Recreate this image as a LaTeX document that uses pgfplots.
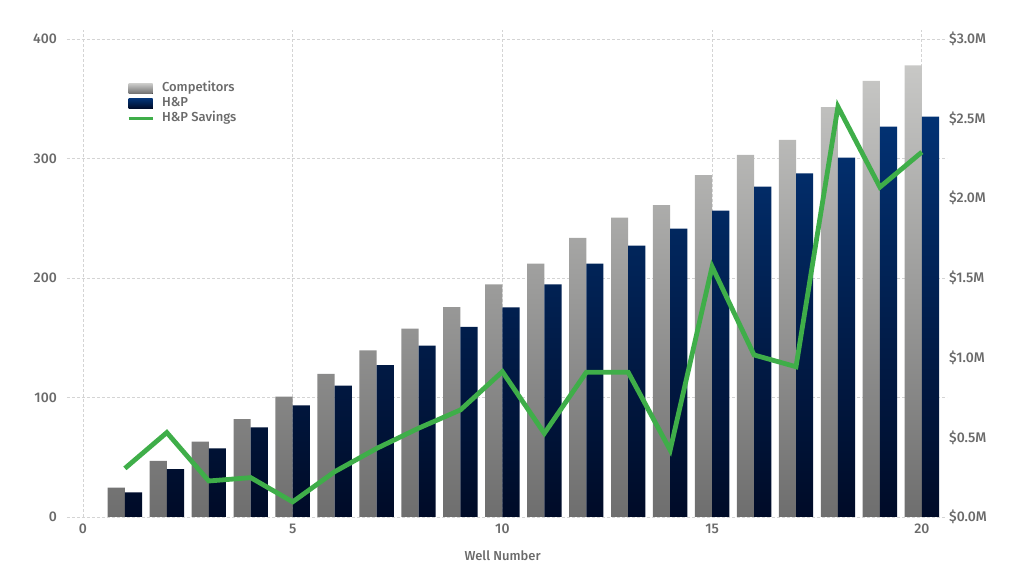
\documentclass[border=0pt]{standalone}
\usepackage{fontspec}
\setmainfont{Fira Sans}[UprightFont={* Medium}]
\usepackage{pgfplots}
\pgfplotsset{compat=1.18}
\usepackage{pgfplotstable}
\definecolor{cTop}{HTML}{C8C8C6}
\definecolor{cBot}{HTML}{6E6E6E}
\definecolor{hTop}{HTML}{023274}
\definecolor{hBot}{HTML}{000B27}
\definecolor{sGreen}{HTML}{3FAE49}
\definecolor{txt}{HTML}{6A6A6A}
\definecolor{gridc}{HTML}{D4D4D4}

\pgfplotstableread{
x comp hp
1 24.5 20.6
2 47 40
3 63 57.5
4 82 75
5 100.7 93.3
6 119.7 110
7 139.5 127
8 157.6 143.4
9 175.7 159
10 194.7 175.5
11 212 194.7
12 233.5 212
13 250.5 227
14 261 241.3
15 286 256.3
16 303 276.4
17 315.5 287.6
18 343 300.7
19 365 326.6
20 378 335
}\bars

\pgfplotstableread{
x sav
1 0.305
2 0.53
3 0.226
4 0.247
5 0.095
6 0.284
7 0.43
8 0.557
9 0.672
10 0.912
11 0.525
12 0.908
13 0.908
14 0.42
15 1.571
16 1.017
17 0.943
18 2.575
19 2.07
20 2.29
}\savings

\begin{document}
\begin{tikzpicture}
\path[use as bounding box] (-67bp,-71bp) rectangle (957bp,517bp);
\begin{axis}[
  scale only axis, width=880bp, height=487bp,
  xmin=-0.38, xmax=20.6, ymin=0, ymax=407.5,
  axis line style={draw=none},
  major tick length=0pt,
  tick style={draw=none},
  xtick={0,5,10,15,20},
  ytick={0,100,200,300,400},
  grid=major,
  major grid style={gridc, dash pattern=on 3bp off 2bp, line width=0.8bp},
  /pgf/number format/assume math mode=true,
  tick label style={font=\fontsize{14bp}{16bp}\selectfont, text=txt, inner sep=0pt},
  xticklabel shift=7bp,
  yticklabel shift=10bp,
  xlabel={Well Number},
  xlabel style={font=\fontsize{13bp}{16bp}\selectfont, text=txt, at={(axis description cs:0.495,0)}, anchor=center, yshift=-39bp},
  legend style={at={(rel axis cs:0.068,0.895)}, anchor=north west, draw=none, fill=none,
     font=\fontsize{13bp}{14bp}\selectfont, text=txt, inner sep=0pt, row sep=0bp, column sep=7bp,
     nodes={inner sep=1bp, text height=9.5bp, text depth=3.5bp, anchor=west}},
  legend cell align=left,
]
\addplot[ybar, bar width=0.41, bar shift=-0.205, draw=none, top color=cTop, bottom color=cBot,
  legend image code/.code={\fill[top color=cTop,bottom color=cBot] (0bp,-5bp) rectangle (24bp,5bp);}]
  table[x=x, y=comp] {\bars};
\addlegendentry{Competitors}
\addplot[ybar, bar width=0.41, bar shift=0.205, draw=none, top color=hTop, bottom color=hBot,
  legend image code/.code={\fill[top color=hTop,bottom color=hBot] (0bp,-5bp) rectangle (24bp,5bp);}]
  table[x=x, y=hp] {\bars};
\addlegendentry{H\&P}
\addlegendimage{legend image code/.code={\draw[sGreen, line width=3bp] (0bp,0bp) -- (24bp,0bp);}}
\addlegendentry{H\&P Savings}
\end{axis}
\begin{axis}[
  scale only axis, width=880bp, height=487bp,
  xmin=-0.38, xmax=20.6, ymin=0, ymax=3.05625,
  axis line style={draw=none},
  major tick length=0pt,
  tick style={draw=none},
  axis x line=none,
  axis y line*=right,
  ytick={0,0.5,1,1.5,2,2.5,3},
  /pgf/number format/assume math mode=true,
  yticklabel={\$\pgfmathprintnumber[fixed,fixed zerofill,precision=1]{\tick}M},
  tick label style={font=\fontsize{14bp}{16bp}\selectfont, text=txt, inner sep=0pt},
  yticklabel shift=2bp,
]
\addplot[sGreen, line width=4.8bp, line join=miter, mark=none] table[x=x, y=sav] {\savings};
\end{axis}
\end{tikzpicture}
\end{document}
